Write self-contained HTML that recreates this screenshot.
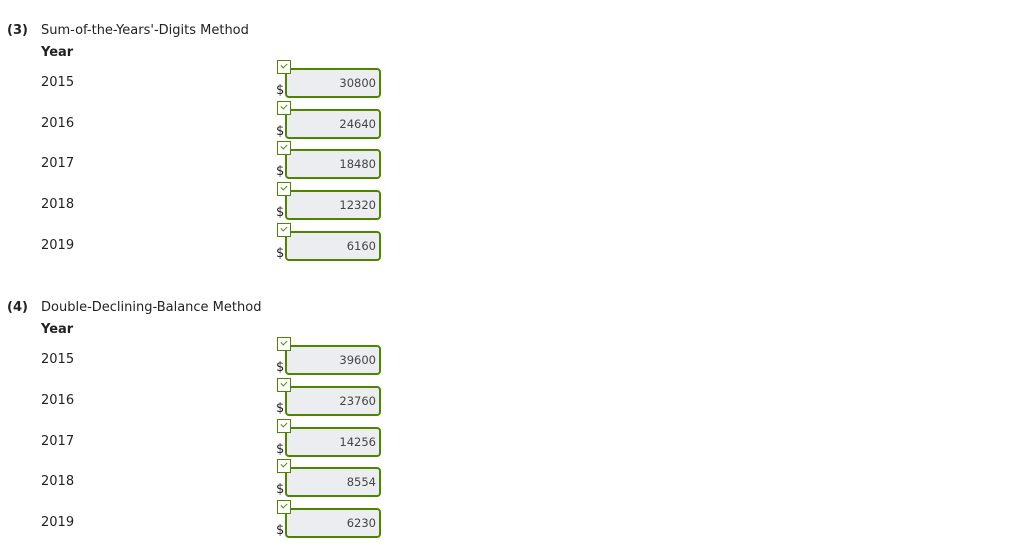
<!DOCTYPE html>
<html><head><meta charset="utf-8"><style>
body{margin:0;width:1024px;height:558px;background:#fff;font-family:"DejaVu Sans","Liberation Sans",sans-serif;font-size:13px;color:#222;position:relative;overflow:hidden}
.t{position:absolute;white-space:nowrap;line-height:16px;margin-top:2px}
.b{font-weight:bold}
.box{position:absolute;left:285px;width:92px;height:26px;border:2px solid #4d8400;border-radius:4px;background:#ebedf0;box-sizing:content-box;font-size:11.5px;color:#444;text-align:right;line-height:26px}
.box span{margin-right:3px}
.ck{position:absolute;left:277px;width:12px;height:12px;border:1px solid #4d8400;background:#fff}
.ck:after{content:"";position:absolute;left:3px;top:2px;width:5px;height:3px;border-left:1.5px solid #4d8400;border-bottom:1.5px solid #4d8400;transform:rotate(-45deg)}
.d{position:absolute;left:276px;font-size:13px;line-height:14px}
</style></head><body>
<div class="t b" style="left:7px;top:21px">(3)</div>
<div class="t" style="left:41px;top:21px">Sum-of-the-Years'-Digits Method</div>
<div class="t b" style="left:41px;top:43px">Year</div>

<div class="t" style="left:41px;top:73px">2015</div>
<div class="box" style="top:68px"><span>30800</span></div><div class="ck" style="top:60px"></div><div class="d" style="top:84px">$</div>
<div class="t" style="left:41px;top:114px">2016</div>
<div class="box" style="top:109px"><span>24640</span></div><div class="ck" style="top:101px"></div><div class="d" style="top:125px">$</div>
<div class="t" style="left:41px;top:154px">2017</div>
<div class="box" style="top:149px"><span>18480</span></div><div class="ck" style="top:141px"></div><div class="d" style="top:165px">$</div>
<div class="t" style="left:41px;top:195px">2018</div>
<div class="box" style="top:190px"><span>12320</span></div><div class="ck" style="top:182px"></div><div class="d" style="top:206px">$</div>
<div class="t" style="left:41px;top:236px">2019</div>
<div class="box" style="top:231px"><span>6160</span></div><div class="ck" style="top:223px"></div><div class="d" style="top:247px">$</div>

<div class="t b" style="left:7px;top:298px">(4)</div>
<div class="t" style="left:41px;top:298px">Double-Declining-Balance Method</div>
<div class="t b" style="left:41px;top:320px">Year</div>

<div class="t" style="left:41px;top:350px">2015</div>
<div class="box" style="top:345px"><span>39600</span></div><div class="ck" style="top:337px"></div><div class="d" style="top:361px">$</div>
<div class="t" style="left:41px;top:391px">2016</div>
<div class="box" style="top:386px"><span>23760</span></div><div class="ck" style="top:378px"></div><div class="d" style="top:402px">$</div>
<div class="t" style="left:41px;top:432px">2017</div>
<div class="box" style="top:427px"><span>14256</span></div><div class="ck" style="top:419px"></div><div class="d" style="top:443px">$</div>
<div class="t" style="left:41px;top:472px">2018</div>
<div class="box" style="top:467px"><span>8554</span></div><div class="ck" style="top:459px"></div><div class="d" style="top:483px">$</div>
<div class="t" style="left:41px;top:513px">2019</div>
<div class="box" style="top:508px"><span>6230</span></div><div class="ck" style="top:500px"></div><div class="d" style="top:524px">$</div>
</body></html>
